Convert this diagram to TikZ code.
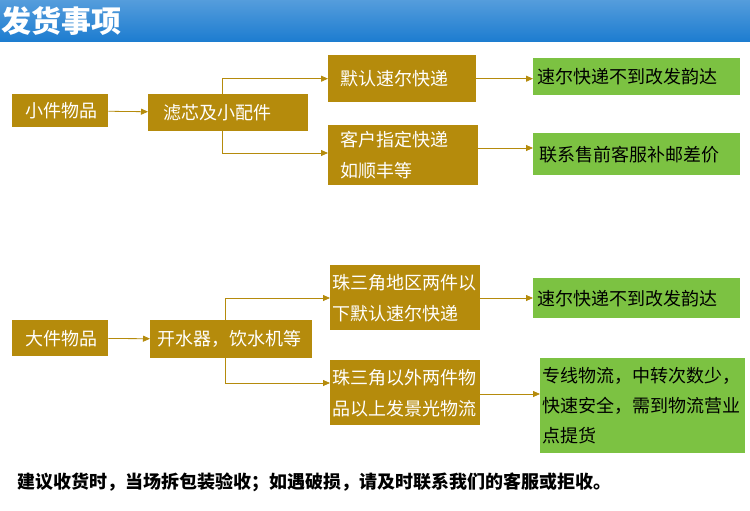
\documentclass[tikz,border=0pt]{standalone}
\usepackage{fontspec}
\setmainfont{Noto Sans CJK SC}
\usetikzlibrary{arrows.meta}
\definecolor{gold}{HTML}{B58B0C}
\definecolor{grn}{HTML}{7CC242}
\definecolor{hblue}{HTML}{1C7CD0}
\tikzset{
 bx/.style 2 args={anchor=north west,inner ysep=0pt,align=left,minimum height=#2,text width=#1},
 gbox/.style={fill=gold,text=white,font=\fontsize{18}{31}\selectfont},
 nbox/.style={fill=grn,text=black,font=\fontsize{18}{30}\selectfont},
 arr/.style={draw=gold,line width=0.8pt,-{Triangle[length=7pt,width=6pt]}},
}
\begin{document}
\begin{tikzpicture}[x=1pt,y=-1pt]
\useasboundingbox (0,0) rectangle (750,511);
\fill[white] (0,0) rectangle (750,511);
\shade[top color=hblue!75,bottom color=hblue] (0,0) rectangle (750,42);
\node[anchor=west,text=white,font=\fontsize{30}{32}\bfseries\selectfont,inner sep=0pt] (title) at (1,21) {发货事项};
% group 1
\node[gbox,bx={70pt}{33pt},inner xsep=13pt] (a1) at (12,94) {小件物品};
\node[gbox,bx={130pt}{37pt},inner xsep=15pt] (a2) at (148,94) {滤芯及小配件};
\node[gbox,bx={124pt}{47pt},inner xsep=12pt] (a3) at (328,55) {默认速尔快递};
\node[gbox,bx={126pt}{60pt},inner xsep=12pt] (a4) at (328,125) {客户指定快递\\如顺丰等};
\node[nbox,bx={199pt}{37pt},inner xsep=4pt] (a5) at (533,58) {速尔快递不到改发韵达};
\node[nbox,bx={195pt}{42pt},inner xsep=6pt] (a6) at (533,133) {联系售前客服补邮差价};
\draw[arr] (a1) -- (a2);
\draw[arr] (a2.north) ++(-6,0) coordinate (b1) |- (a3.west);
\draw[arr] (b1) |- (a4.west |- 0,153) coordinate (c1);
\draw[arr] (a3.east) -- (a5.west |- a3.east);
\draw[arr] (a4.east |- 0,148) -- (a6.west |- 0,148);
% group 2
\node[gbox,bx={70pt}{36pt},inner xsep=13pt] (b2) at (12,320) {大件物品};
\node[gbox,bx={148pt}{38pt},inner xsep=7pt] (b3) at (150,320) {开水器，饮水机等};
\node[gbox,bx={146pt}{65pt},inner xsep=2pt] (b4) at (330,265) {珠三角地区两件以\\下默认速尔快递};
\node[gbox,bx={146pt}{65pt},inner xsep=2pt] (b5) at (330,360) {珠三角以外两件物\\品以上发景光物流};
\node[nbox,bx={199pt}{40pt},inner xsep=4pt] (b6) at (533,278) {速尔快递不到改发韵达};
\node[nbox,bx={201pt}{95pt},inner xsep=2pt] (b7) at (540,358) {专线物流，中转次数少，\\快速安全，需到物流营业\\点提货};
\draw[arr] (b2) -- (b3);
\draw[arr] (b3.north) ++(-6,0) coordinate (b8) |- (b4.west |- 0,298);
\draw[arr] (b3.south) ++(-6,0) |- (b5.west |- 0,383);
\draw[arr] (b4.east |- 0,298) -- (b6.west |- 0,298);
\draw[arr] (b5.east |- 0,394) -- (b7.west |- 0,394);
\node[anchor=west,inner sep=0pt,font=\fontsize{18}{20}\bfseries\selectfont] (foot) at (17,482) {建议收货时，当场拆包装验收；如遇破损，请及时联系我们的客服或拒收。};
\end{tikzpicture}
\end{document}
